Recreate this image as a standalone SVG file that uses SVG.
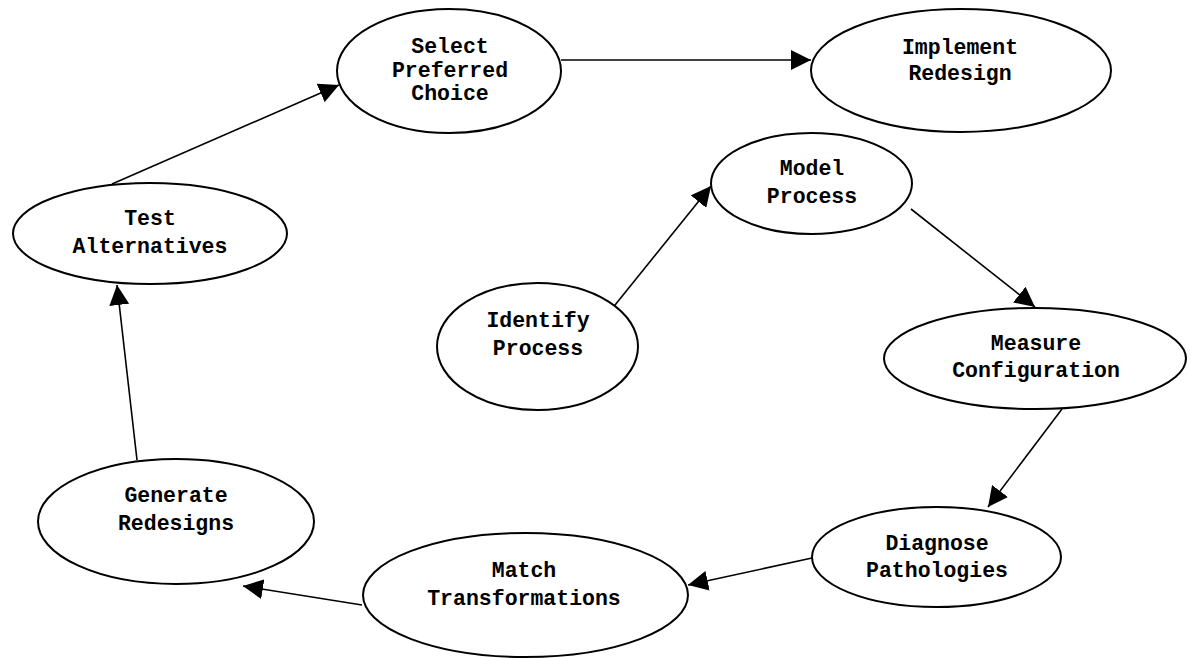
<svg xmlns="http://www.w3.org/2000/svg" width="1191" height="658" viewBox="0 0 1191 658">
<style>
.n{fill:#fff;stroke:#000;stroke-width:2}
.t{font-family:"Liberation Mono","Courier New",monospace;font-weight:bold;font-size:21.5px;text-anchor:middle;fill:#000}
.c{stroke:#000;stroke-width:1.6;fill:none;marker-end:url(#ah)}
</style>
<defs>
<marker id="ah" markerUnits="userSpaceOnUse" markerWidth="20" markerHeight="20" refX="20" refY="10" orient="auto" viewBox="0 0 20 20">
<path d="M0,0 L20,10 L0,20 z" fill="#000"/>
</marker>
</defs>
<rect width="1191" height="658" fill="#fff"/>
<g id="connectors">
<line class="c" x1="112" y1="184" x2="339" y2="85"/>
<line class="c" x1="561" y1="60" x2="811" y2="60"/>
<line class="c" x1="611" y1="310" x2="711" y2="186"/>
<line class="c" x1="911" y1="209" x2="1035" y2="307"/>
<line class="c" x1="1062" y1="409" x2="988" y2="507"/>
<line class="c" x1="812" y1="558" x2="688" y2="585"/>
<line class="c" x1="362" y1="605" x2="243" y2="586"/>
<line class="c" x1="137" y1="460" x2="117" y2="285"/>
</g>
<g id="select">
<ellipse class="n" cx="449" cy="71" rx="112" ry="62"/>
<text class="t" x="450" y="53">Select</text>
<text class="t" x="450" y="77">Preferred</text>
<text class="t" x="450" y="100">Choice</text>
</g>
<g id="implement">
<ellipse class="n" cx="961" cy="70.5" rx="150" ry="61.5"/>
<text class="t" x="960" y="54">Implement</text>
<text class="t" x="960" y="80">Redesign</text>
</g>
<g id="test">
<ellipse class="n" cx="150" cy="233.5" rx="137" ry="50.5"/>
<text class="t" x="150" y="225">Test</text>
<text class="t" x="150" y="253">Alternatives</text>
</g>
<g id="model">
<ellipse class="n" cx="811.5" cy="183.5" rx="100.5" ry="50.5"/>
<text class="t" x="812" y="175">Model</text>
<text class="t" x="812" y="203">Process</text>
</g>
<g id="identify">
<ellipse class="n" cx="537.5" cy="346.5" rx="100.5" ry="63.5"/>
<text class="t" x="538" y="327">Identify</text>
<text class="t" x="538" y="355">Process</text>
</g>
<g id="measure">
<ellipse class="n" cx="1035" cy="358.5" rx="151" ry="50.5"/>
<text class="t" x="1036" y="350">Measure</text>
<text class="t" x="1036" y="377">Configuration</text>
</g>
<g id="diagnose">
<ellipse class="n" cx="936.5" cy="557" rx="124.5" ry="50"/>
<text class="t" x="937" y="550">Diagnose</text>
<text class="t" x="937" y="577">Pathologies</text>
</g>
<g id="match">
<ellipse class="n" cx="525.5" cy="595" rx="162.5" ry="62"/>
<text class="t" x="524" y="577">Match</text>
<text class="t" x="524" y="605">Transformations</text>
</g>
<g id="generate">
<ellipse class="n" cx="176" cy="521.5" rx="138" ry="62.5"/>
<text class="t" x="176" y="502">Generate</text>
<text class="t" x="176" y="530">Redesigns</text>
</g>
</svg>
